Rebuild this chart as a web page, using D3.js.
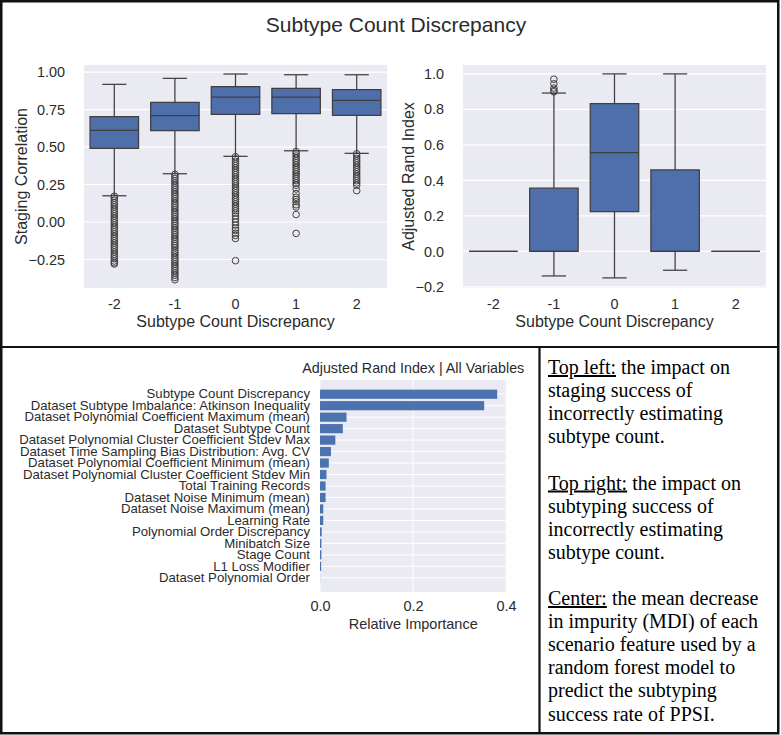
<!DOCTYPE html>
<html>
<head>
<meta charset="utf-8">
<script src="https://cdn.jsdelivr.net/npm/d3@7"></script>
<style>
  html, body { margin: 0; padding: 0; background: #fff; }
  svg { display: block; }
</style>
</head>
<body>
<div id="chart"></div>
<script>
// --- data ---
const discrepancy = ['-2', '-1', '0', '1', '2']

// Staging correlation box stats per discrepancy
const stagingWhiskerLow = [0.175, 0.322, 0.438, 0.475, 0.458]
const stagingQ1 = [0.491, 0.609, 0.718, 0.722, 0.711]
const stagingMedian = [0.611, 0.709, 0.833, 0.833, 0.811]
const stagingQ3 = [0.702, 0.798, 0.902, 0.891, 0.882]
const stagingWhiskerHigh = [0.918, 0.958, 0.987, 0.982, 0.982]
const stagingOutliers = [
  [0.172, 0.16, 0.145, 0.13, 0.115, 0.1, 0.085, 0.07, 0.055, 0.04, 0.025, 0.01, -0.005, -0.02, -0.035, -0.05,
    -0.065, -0.08, -0.095, -0.11, -0.125, -0.14, -0.155, -0.17, -0.185, -0.2, -0.215, -0.23, -0.245, -0.26, -0.272, -0.28],
  [0.318, 0.305, 0.29, 0.275, 0.26, 0.245, 0.23, 0.215, 0.2, 0.185, 0.17, 0.155, 0.14, 0.125, 0.11, 0.095, 0.08,
    0.065, 0.05, 0.035, 0.02, 0.005, -0.01, -0.025, -0.04, -0.055, -0.07, -0.085, -0.1, -0.115, -0.13, -0.145,
    -0.158, -0.172, -0.19, -0.205, -0.22, -0.235, -0.25, -0.265, -0.28, -0.295, -0.31, -0.325, -0.34, -0.355, -0.37, -0.385],
  [0.435, 0.42, 0.405, 0.39, 0.375, 0.36, 0.345, 0.33, 0.315, 0.3, 0.285, 0.27, 0.255, 0.24, 0.225, 0.21, 0.195,
    0.18, 0.165, 0.15, 0.135, 0.12, 0.105, 0.09, 0.075, 0.06, 0.04, 0.02, 0.0, -0.02, -0.04, -0.055, -0.075, -0.09, -0.11, -0.258],
  [0.47, 0.455, 0.44, 0.425, 0.41, 0.395, 0.38, 0.365, 0.35, 0.335, 0.32, 0.305, 0.29, 0.275, 0.26, 0.245, 0.22,
    0.19, 0.165, 0.15, 0.135, 0.115, 0.1, 0.05, -0.076],
  [0.455, 0.44, 0.425, 0.41, 0.395, 0.38, 0.365, 0.35, 0.335, 0.32, 0.305, 0.29, 0.275, 0.26, 0.245, 0.209]
]
const stagingTicks = [-0.25, 0, 0.25, 0.5, 0.75, 1.0]

// Adjusted Rand Index box stats per discrepancy
const ariWhiskerLow = [0, -0.138, -0.149, -0.106, 0]
const ariQ1 = [0, 0, 0.224, 0, 0]
const ariMedian = [0, 0, 0.556, 0, 0]
const ariQ3 = [0, 0.356, 0.832, 0.459, 0]
const ariWhiskerHigh = [0, 0.892, 1.0, 1.0, 0]
const ariOutliers = [[], [0.899, 0.906, 0.92, 0.944, 0.97], [], [], []]
const ariTicks = [-0.2, 0, 0.2, 0.4, 0.6, 0.8, 1.0]

// Random forest feature importance (MDI)
const featureNames = [
  'Subtype Count Discrepancy',
  'Dataset Subtype Imbalance: Atkinson Inequality',
  'Dataset Polynomial Coefficient Maximum (mean)',
  'Dataset Subtype Count',
  'Dataset Polynomial Cluster Coefficient Stdev Max',
  'Dataset Time Sampling Bias Distribution: Avg. CV',
  'Dataset Polynomial Coefficient Minimum (mean)',
  'Dataset Polynomial Cluster Coefficient Stdev Min',
  'Total Training Records',
  'Dataset Noise Minimum (mean)',
  'Dataset Noise Maximum (mean)',
  'Learning Rate',
  'Polynomial Order Discrepancy',
  'Minibatch Size',
  'Stage Count',
  'L1 Loss Modifier',
  'Dataset Polynomial Order'
]
const featureImportance = [0.381, 0.353, 0.057, 0.049, 0.033, 0.0235, 0.019, 0.014, 0.012, 0.012,
  0.007, 0.007, 0.0036, 0.003, 0.003, 0.0025, 0.0003]
const importanceTicks = [0, 0.2, 0.4]

const captionLines = [
  [['Top left:', true], [' the impact on', false]],
  [['staging success of', false]],
  [['incorrectly estimating', false]],
  [['subtype count.', false]],
  [],
  [['Top right:', true], [' the impact on', false]],
  [['subtyping success of', false]],
  [['incorrectly estimating', false]],
  [['subtype count.', false]],
  [],
  [['Center:', true], [' the mean decrease', false]],
  [['in impurity (MDI) of each', false]],
  [['scenario feature used by a', false]],
  [['random forest model to', false]],
  [['predict the subtyping', false]],
  [['success rate of PPSI.', false]]
]

// --- styling ---
const SANS = "'Liberation Sans', Arial, Helvetica, sans-serif"
const SERIF = "'Liberation Serif', 'Times New Roman', serif"
const PANEL_BG = '#eaeaf2'
const BOX_FILL = '#4f6fab'
const BAR_FILL = '#4c72b0'
const EDGE = '#3f3f3f'
const TEXT = '#2b2b2b'

const W = 781, H = 735

const svg = d3.select('#chart').append('svg')
  .attr('width', W).attr('height', H)
  .attr('viewBox', `0 0 ${W} ${H}`)

svg.append('rect').attr('width', W).attr('height', H).attr('fill', '#fff')

svg.append('text').attr('x', 396).attr('y', 32)
  .attr('text-anchor', 'middle').attr('fill', TEXT)
  .style('font-family', SANS).style('font-size', '21px')
  .text('Subtype Count Discrepancy')

function boxPanel({ frame, yDomain, yTicks, yFormat, yLabel, yLabelX, lo, q1, med, q3, hi, outliers }) {
  const g = svg.append('g')
  const x = d3.scaleBand().domain(discrepancy).range([frame.left, frame.right])
    .paddingInner(0.2).paddingOuter(0.1)
  const y = d3.scaleLinear().domain(yDomain).range([frame.bottom, frame.top])

  g.append('rect').attr('x', frame.left).attr('y', frame.top)
    .attr('width', frame.right - frame.left).attr('height', frame.bottom - frame.top)
    .attr('fill', PANEL_BG)

  // Grid lines
  g.append('g').selectAll('line').data(yTicks).join('line')
    .attr('x1', frame.left).attr('x2', frame.right)
    .attr('y1', d => y(d)).attr('y2', d => y(d))
    .attr('stroke', '#fff').attr('stroke-width', 1.2)

  // Axes (labels only, no domain lines)
  const yAxis = g.append('g').attr('transform', `translate(${frame.left},0)`)
    .call(d3.axisLeft(y).tickValues(yTicks).tickFormat(d3.format(yFormat)).tickSize(0).tickPadding(19))
  const xAxis = g.append('g').attr('transform', `translate(0,${frame.bottom})`)
    .call(d3.axisBottom(x).tickSize(0).tickPadding(11))
  ;[yAxis, xAxis].forEach(a => {
    a.select('.domain').remove()
    a.selectAll('text').attr('fill', TEXT).style('font-family', SANS).style('font-size', '14.4px')
  })

  const bw = x.bandwidth()
  discrepancy.forEach((c, i) => {
    const cx = x(c) + bw / 2
    const cap = bw / 4
    // Whiskers
    g.append('line').attr('x1', cx).attr('x2', cx).attr('y1', y(q3[i])).attr('y2', y(hi[i]))
      .attr('stroke', EDGE).attr('stroke-width', 1.25)
    g.append('line').attr('x1', cx).attr('x2', cx).attr('y1', y(q1[i])).attr('y2', y(lo[i]))
      .attr('stroke', EDGE).attr('stroke-width', 1.25)
    if (hi[i] !== q3[i]) {
      g.append('line').attr('x1', cx - cap).attr('x2', cx + cap).attr('y1', y(hi[i])).attr('y2', y(hi[i]))
        .attr('stroke', EDGE).attr('stroke-width', 1.25)
    }
    if (lo[i] !== q1[i]) {
      g.append('line').attr('x1', cx - cap).attr('x2', cx + cap).attr('y1', y(lo[i])).attr('y2', y(lo[i]))
        .attr('stroke', EDGE).attr('stroke-width', 1.25)
    }
    // Box (path so a zero-height box still shows as a line)
    const x0 = x(c), x1 = x(c) + bw, yTop = y(q3[i]), yBot = y(q1[i])
    g.append('path').attr('d', `M${x0},${yTop}H${x1}V${yBot}H${x0}Z`)
      .attr('fill', BOX_FILL).attr('stroke', EDGE).attr('stroke-width', 1.25)
    g.append('line').attr('x1', x0).attr('x2', x1).attr('y1', y(med[i])).attr('y2', y(med[i]))
      .attr('stroke', EDGE).attr('stroke-width', 1.25)
    // Fliers
    g.selectAll(null).data(outliers[i]).join('circle')
      .attr('cx', cx).attr('cy', d => y(d)).attr('r', 3.3)
      .attr('fill', 'none').attr('stroke', EDGE).attr('stroke-width', 1)
  })

  g.append('text')
    .attr('transform', `translate(${yLabelX},${(frame.top + frame.bottom) / 2}) rotate(-90)`)
    .attr('text-anchor', 'middle').attr('fill', TEXT)
    .style('font-family', SANS).style('font-size', '16px').text(yLabel)
  g.append('text').attr('x', (frame.left + frame.right) / 2).attr('y', 327)
    .attr('text-anchor', 'middle').attr('fill', TEXT)
    .style('font-family', SANS).style('font-size', '16px').text('Subtype Count Discrepancy')
}

boxPanel({
  frame: { left: 84, right: 387, top: 65, bottom: 288 },
  yDomain: [-0.44, 1.047], yTicks: stagingTicks, yFormat: '.2f',
  yLabel: 'Staging Correlation', yLabelX: 27,
  lo: stagingWhiskerLow, q1: stagingQ1, med: stagingMedian, q3: stagingQ3, hi: stagingWhiskerHigh,
  outliers: stagingOutliers
})

boxPanel({
  frame: { left: 463, right: 766, top: 65, bottom: 288 },
  yDomain: [-0.206, 1.05], yTicks: ariTicks, yFormat: '.1f',
  yLabel: 'Adjusted Rand Index', yLabelX: 414,
  lo: ariWhiskerLow, q1: ariQ1, med: ariMedian, q3: ariQ3, hi: ariWhiskerHigh,
  outliers: ariOutliers
})

// --- feature importance bar chart ---
{
  const frame = { left: 320, right: 506.5, top: 380, bottom: 592 }
  const g = svg.append('g')
  const x = d3.scaleLinear().domain([0, 0.401]).range([frame.left, frame.right])
  const y = d3.scaleBand().domain(featureNames).range([frame.top, frame.bottom])
    .paddingInner(0.2).paddingOuter(0.84)

  g.append('rect').attr('x', frame.left).attr('y', frame.top)
    .attr('width', frame.right - frame.left).attr('height', frame.bottom - frame.top)
    .attr('fill', PANEL_BG)

  g.append('g').selectAll('line').data(importanceTicks).join('line')
    .attr('x1', d => x(d)).attr('x2', d => x(d)).attr('y1', frame.top).attr('y2', frame.bottom)
    .attr('stroke', '#fff').attr('stroke-width', 1)
  g.append('g').selectAll('line').data(featureNames).join('line')
    .attr('x1', frame.left).attr('x2', frame.right)
    .attr('y1', d => y(d) + y.bandwidth() / 2).attr('y2', d => y(d) + y.bandwidth() / 2)
    .attr('stroke', '#fff').attr('stroke-width', 1)

  g.selectAll('rect.bar').data(featureNames).join('rect').attr('class', 'bar')
    .attr('x', x(0)).attr('y', d => y(d))
    .attr('width', (d, i) => x(featureImportance[i]) - x(0))
    .attr('height', y.bandwidth()).attr('fill', BAR_FILL)

  const yAxis = g.append('g').attr('transform', `translate(${frame.left},0)`)
    .call(d3.axisLeft(y).tickSize(0).tickPadding(10))
  yAxis.select('.domain').remove()
  yAxis.selectAll('text').attr('fill', TEXT).style('font-family', SANS).style('font-size', '13.2px')

  const xAxis = g.append('g').attr('transform', `translate(0,${frame.bottom})`)
    .call(d3.axisBottom(x).tickValues(importanceTicks).tickFormat(d3.format('.1f')).tickSize(0).tickPadding(9))
  xAxis.select('.domain').remove()
  xAxis.selectAll('text').attr('fill', TEXT).style('font-family', SANS).style('font-size', '14.5px')

  g.append('text').attr('x', (frame.left + frame.right) / 2).attr('y', 629)
    .attr('text-anchor', 'middle').attr('fill', TEXT)
    .style('font-family', SANS).style('font-size', '14.5px').text('Relative Importance')
  g.append('text').attr('x', (frame.left + frame.right) / 2).attr('y', 373)
    .attr('text-anchor', 'middle').attr('fill', TEXT)
    .style('font-family', SANS).style('font-size', '14.3px').text('Adjusted Rand Index | All Variables')
}

// --- caption panel ---
{
  const t = svg.append('text').attr('fill', '#000')
    .style('font-family', SERIF).style('font-size', '20px')
  captionLines.forEach((parts, i) => {
    const line = t.append('tspan').attr('x', 548).attr('y', 374 + i * 23.1)
    parts.forEach(([s, u]) => {
      line.append('tspan').style('text-decoration', u ? 'underline' : 'none').text(s)
    })
  })
}

// Frame lines
svg.append('rect').attr('x', 1.25).attr('y', 1.25).attr('width', 777).attr('height', 732)
  .attr('fill', 'none').attr('stroke', '#111').attr('stroke-width', 2.5)
svg.append('line').attr('x1', 0).attr('x2', 779).attr('y1', 347).attr('y2', 347)
  .attr('stroke', '#111').attr('stroke-width', 2.2)
svg.append('line').attr('x1', 539.5).attr('x2', 539.5).attr('y1', 347).attr('y2', 734)
  .attr('stroke', '#111').attr('stroke-width', 2.2)
</script>
</body>
</html>
